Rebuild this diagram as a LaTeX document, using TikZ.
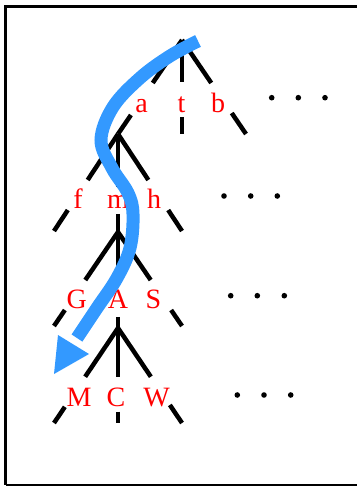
\documentclass[tikz,border=0pt]{standalone}
\usepackage{fontspec}
\setmainfont{Liberation Serif}
\usetikzlibrary{calc}
\definecolor{arrowblue}{RGB}{51,153,255}
\newcommand\gapline[4]{\draw[branch] (#1) -- ($(#1)!#3!(#2)$) ($(#1)!#4!(#2)$) -- (#2);}
\begin{document}
\begin{tikzpicture}[x=1pt,y=-1pt,
  branch/.style={line width=4.5pt, line cap=butt},
  lbl/.style={text=red, anchor=base, inner sep=0pt, font=\fontsize{28}{28}\selectfont},
  dotmark/.style={fill=black, draw=none},
  frameline/.style={line width=3pt, black}]
\useasboundingbox (0,0) rectangle (356,487);
% frame
\draw[frameline] (370,6.5) -- (5.5,6.5) -- (5.5,485);
\draw[line width=2pt] (5.5,485) -- (370,485);
% apex and end coordinates
\coordinate (r) at (182,40);
\coordinate (e1l) at (118,134);
\coordinate (e1m) at (182,134);
\coordinate (e1r) at (246,134);
\coordinate (e2l) at (54,231);
\coordinate (e2m) at (118,232);
\coordinate (e2r) at (182,231);
\coordinate (e3l) at (54,326);
\coordinate (e3m) at (118,328);
\coordinate (e3r) at (182,326);
\coordinate (e4l) at (54,423);
\coordinate (e4m) at (118,423);
\coordinate (e4r) at (182,423);
% level 1
\gapline{r}{e1l}{0.457}{0.798}
\gapline{r}{e1m}{0.447}{0.819}
\gapline{r}{e1r}{0.457}{0.777}
% level 2
\gapline{e1l}{e2l}{0.474}{0.784}
\gapline{e1l}{e2m}{0.536}{0.814}
\gapline{e1l}{e2r}{0.474}{0.784}
% level 3
\gapline{e2m}{e3l}{0.511}{0.83}
\gapline{e2m}{e3m}{0.511}{0.883}
\gapline{e2m}{e3r}{0.511}{0.83}
% level 4
\gapline{e3m}{e4l}{0.513}{0.83}
\gapline{e3m}{e4m}{0.516}{0.88}
\gapline{e3m}{e4r}{0.513}{0.81}
% labels
\node[lbl] (la) at (141.7,112) {a};
\node[lbl] (lt) at (181.5,112) {t};
\node[lbl] (lb) at (218,112) {b};
\node[lbl] (lf) at (78,208) {f};
\node[lbl] (lm) at (118,208) {m};
\node[lbl] (lh) at (154,208) {h};
\node[lbl] (lG) at (76.7,308) {G};
\node[lbl] (lA) at (118,308) {A};
\node[lbl] (lS) at (153.3,308) {S};
\node[lbl] (lM) at (79,406) {M};
\node[lbl] (lC) at (116,406) {C};
\node[lbl] (lW) at (156.7,406) {W};
% dots
\foreach \x in {271.7,298.3,325} \fill[dotmark] (\x,97.7) circle (2.8);
\foreach \x in {224,250.7,277.3} \fill[dotmark] (\x,196) circle (2.8);
\foreach \x in {230.7,257.3,284.3} \fill[dotmark] (\x,295.7) circle (2.8);
\foreach \x in {237.3,264,290.7} \fill[dotmark] (\x,395) circle (2.8);
% blue arrow
\draw[arrowblue, line width=13pt, line cap=butt] plot[smooth, tension=0.6] coordinates
  {(198,41) (170,56) (140,78) (113,107) (101,140) (112,168) (128,193) (133,214) (130,248) (117,278) (97,308) (77,338)};
\coordinate (tip) at (54,374);
\coordinate (hl) at (58,335);
\coordinate (hr) at (89,354);
\fill[arrowblue] (tip) -- (hl) -- (hr) -- cycle;
\end{tikzpicture}
\end{document}
